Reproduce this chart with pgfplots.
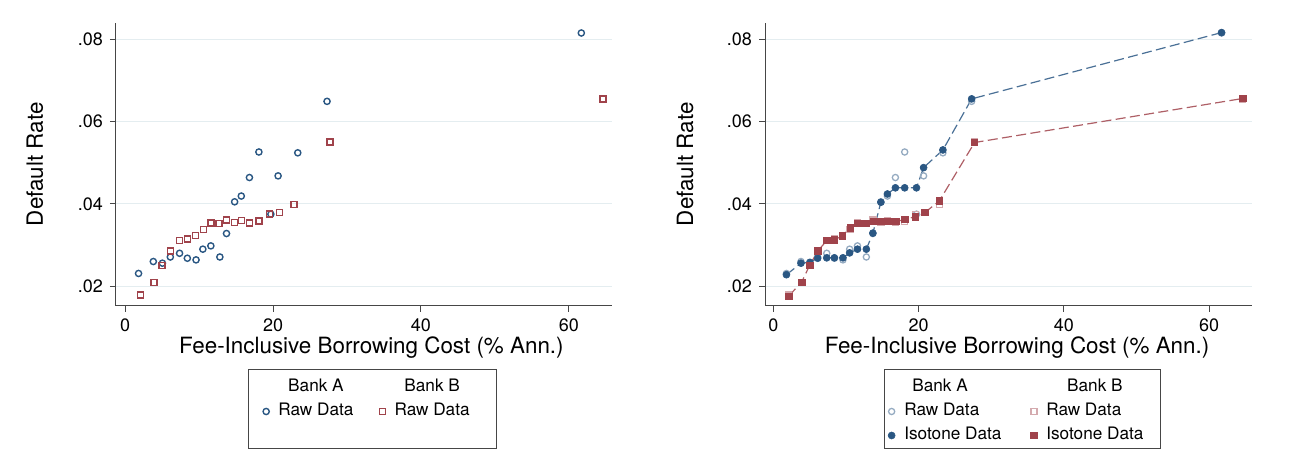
\documentclass[border=0pt]{standalone}
\usepackage{fontspec}
\setmainfont{TeX Gyre Heros}
\usepackage{calc}
\usepackage{pgfplots}
\usepackage{pgfplotstable}
\pgfplotsset{compat=1.18}
\definecolor{bA}{RGB}{42,87,131}
\definecolor{rB}{RGB}{160,67,75}
\definecolor{gridc}{RGB}{228,237,240}
\definecolor{axc}{RGB}{70,70,70}

\pgfplotstableread{
x y
1.80 0.0231
3.80 0.0260
5.03 0.0256
6.10 0.0271
7.35 0.0280
8.40 0.0268
9.58 0.0264
10.50 0.0290
11.58 0.0298
12.80 0.0271
13.70 0.0328
14.80 0.0405
15.70 0.0419
16.80 0.0464
18.08 0.0526
19.70 0.0375
20.68 0.0468
23.34 0.0524
27.30 0.0649
61.70 0.0815
}\rawA

\pgfplotstableread{
x y
2.10 0.0179
3.90 0.0209
5.00 0.0251
6.14 0.0286
7.35 0.0311
8.42 0.0315
9.50 0.0323
10.56 0.0338
11.62 0.0354
12.70 0.0353
13.72 0.0361
14.80 0.0355
15.75 0.0360
16.84 0.0354
18.10 0.0358
19.54 0.0375
20.86 0.0379
22.84 0.0398
27.70 0.0550
64.62 0.0655
}\rawB

\pgfplotstableread{
x y
1.80 0.0228
3.80 0.0256
5.03 0.0258
6.10 0.0268
7.35 0.0269
8.40 0.0269
9.58 0.0269
10.50 0.0281
11.58 0.0290
12.80 0.0290
13.70 0.0329
14.80 0.0404
15.70 0.0424
16.80 0.0439
18.08 0.0439
19.70 0.0439
20.68 0.0488
23.34 0.0531
27.30 0.0655
61.70 0.0816
}\isoA

\pgfplotstableread{
x y
2.10 0.0176
3.90 0.0210
5.00 0.0251
6.14 0.0286
7.35 0.0311
8.42 0.0313
9.50 0.0322
10.56 0.0342
11.62 0.0353
12.70 0.0353
13.72 0.0357
14.80 0.0357
15.75 0.0357
16.84 0.0357
18.10 0.0362
19.54 0.0369
20.86 0.0379
22.84 0.0407
27.70 0.0549
64.62 0.0656
}\isoB

\pgfplotsset{
  stataaxis/.style={
    scale only axis,
    height=141.65pt,
    ymin=0.0152, ymax=0.0840,
    xmax=65.85,
    axis x line*=bottom, axis y line*=left,
    axis line style={draw=axc, line width=0.5pt},
    tick align=outside, major tick length=3pt,
    every tick/.style={draw=axc, line width=0.5pt},
    xtick={0,20,40,60}, xticklabels={0,20,40,60},
    ytick={0.02,0.04,0.06,0.08}, yticklabels={.02,.04,.06,.08},
    scaled y ticks=false, scaled x ticks=false,
    ymajorgrids, major grid style={draw=gridc, line width=0.5pt},
    tick label style={font=\fontsize{9}{10}\selectfont},
    label style={font=\fontsize{11.2}{13}\selectfont},
    xlabel={Fee-Inclusive Borrowing Cost (\% Ann.)},
    ylabel={Default Rate},
    legend columns=2,
    legend cell align=left,
    legend image code/.code={\draw[##1,only marks] plot coordinates {(0pt,0pt)};},
    legend style={draw=none, fill=none, inner sep=0pt, outer sep=0pt,
      anchor=north west,
      font=\fontsize{8.6}{10}\selectfont,
      nodes={inner xsep=0pt, inner ysep=0pt, text height=6.3pt, text depth=1.8pt},
      row sep=3.9pt,
      /tikz/every odd column/.append style={column sep=4.6pt}},
  },
  rawAstyle/.style={only marks, mark=o, mark size=1.55pt, line width=0.7pt, color=bA},
  rawBstyle/.style={only marks, mark=square, mark size=1.5pt, line width=0.7pt, color=rB},
}

\begin{document}
\begin{tikzpicture}
\path (0,0) rectangle (648pt,235pt);

\begin{axis}[stataaxis,
  at={(58pt,82pt)}, anchor=south west,
  width=248pt, xmin=-1.25,
  xlabel style={at={(axis description cs:0.515,-0.1671)}, anchor=base},
  ylabel style={at={(axis description cs:-0.1472,0.5)}, anchor=base},
  legend style={at={(axis description cs:0.2965,-0.2591)},
    /tikz/every even column/.append style={column sep=13pt}},
]
\addlegendimage{empty legend}
\addlegendentry{\makebox[\widthof{Raw Data}][c]{Bank A}}
\addlegendimage{empty legend}
\addlegendentry{\makebox[\widthof{Raw Data}][c]{Bank B}}
\addplot[rawAstyle] table[x=x,y=y] {\rawA};
\addlegendentry{Raw Data}
\addplot[rawBstyle] table[x=x,y=y] {\rawB};
\addlegendentry{Raw Data}
\end{axis}
\draw[axc, line width=0.5pt] (124.15pt,10.5pt) rectangle (248.35pt,50.35pt);

\begin{axis}[stataaxis,
  at={(382.5pt,82pt)}, anchor=south west,
  width=243.35pt, xmin=-1.15,
  xlabel style={at={(axis description cs:0.518,-0.1671)}, anchor=base},
  ylabel style={at={(axis description cs:-0.1479,0.5)}, anchor=base},
  legend style={at={(axis description cs:0.2530,-0.2591)},
    /tikz/every even column/.append style={column sep=14.6pt}},
]
\addlegendimage{empty legend}
\addlegendentry{\hspace*{4pt}Bank A}
\addlegendimage{empty legend}
\addlegendentry{\makebox[\widthof{Isotone Data}][c]{Bank B}}
\addplot[only marks, mark=o, mark size=1.55pt, line width=0.65pt, color=bA!50!white] table[x=x,y=y] {\rawA};
\addlegendentry{Raw Data}
\addplot[only marks, mark=square, mark size=1.5pt, line width=0.65pt, color=rB!45!white] table[x=x,y=y] {\rawB};
\addlegendentry{Raw Data}
\addplot[color=bA!85!white, line width=0.6pt, dash pattern=on 5pt off 2.2pt,
  mark=*, mark size=1.75pt, mark options={solid, draw=bA, fill=bA, line width=0.3pt}] table[x=x,y=y] {\isoA};
\addlegendentry{Isotone Data}
\addplot[color=rB!85!white, line width=0.6pt, dash pattern=on 5pt off 2.2pt,
  mark=square*, mark size=1.6pt, mark options={solid, draw=rB, fill=rB, line width=0.3pt}] table[x=x,y=y] {\isoB};
\addlegendentry{Isotone Data}
\end{axis}
\draw[axc, line width=0.5pt] (442.35pt,10.5pt) rectangle (580pt,50.35pt);
\end{tikzpicture}
\end{document}
